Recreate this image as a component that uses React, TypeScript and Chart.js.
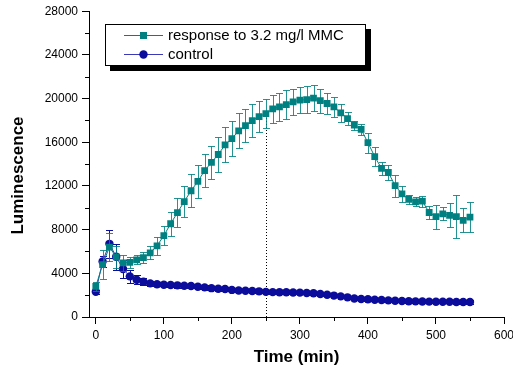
import React, { useEffect, useRef } from 'react';
import { Chart, registerables } from 'chart.js';

Chart.register(...registerables);

const FONT = '"Liberation Sans", Arial, Helvetica, sans-serif';

const times = [
  0, 10, 20, 30, 40, 50, 60, 70, 80, 90,
  100, 110, 120, 130, 140, 150, 160, 170, 180, 190,
  200, 210, 220, 230, 240, 250, 260, 270, 280, 290,
  300, 310, 320, 330, 340, 350, 360, 370, 380, 390,
  400, 410, 420, 430, 440, 450, 460, 470, 480, 490,
  500, 510, 520, 530, 540, 550,
];

const responseValues = [
  2800, 4800, 6400, 5500, 4950, 5000, 5240, 5430, 5880, 6520,
  7450, 8540, 9560, 10570, 11560, 12410, 13410, 14150, 14880, 15760,
  16340, 17050, 17530, 17990, 18350, 18630, 19060, 19240, 19450, 19700,
  19850, 19910, 20040, 19820, 19550, 19240, 18700, 18170, 17560, 17180,
  15960, 14690, 13600, 13230, 12020, 11270, 10780, 10550, 10610, 9570,
  9200, 9450, 9300, 9200, 8840, 9150,
];

const responseErrors = [
  400, 1300, 1300, 1000, 700, 500, 400, 500, 600, 800,
  900, 1100, 1300, 1400, 1500, 1500, 1500, 1500, 1600, 1600,
  1600, 1600, 1500, 1500, 1400, 1300, 1300, 1300, 1300, 1200,
  1200, 1200, 1200, 1100, 1000, 900, 800, 600, 400, 500,
  900, 900, 600, 700, 1000, 700, 400, 400, 500, 600,
  1100, 600, 1100, 2000, 1100, 1400,
];

const controlValues = [
  2310, 5090, 6700, 5520, 4390, 3720, 3410, 3230, 3080, 3000,
  2950, 2930, 2900, 2860, 2840, 2770, 2710, 2640, 2590, 2560,
  2480, 2420, 2410, 2380, 2350, 2300, 2280, 2270, 2270, 2250,
  2230, 2200, 2170, 2100, 2040, 1960, 1890, 1800, 1700, 1650,
  1620, 1580, 1550, 1520, 1490, 1460, 1440, 1430, 1420, 1410,
  1400, 1390, 1390, 1380, 1380, 1380,
];

const controlErrors = [
  200, 500, 1300, 1200, 800, 600, 400, 300, 250, 200,
  200, 200, 200, 200, 200, 200, 200, 200, 200, 200,
  150, 150, 150, 150, 150, 150, 150, 150, 150, 150,
  150, 150, 150, 150, 150, 150, 150, 150, 150, 150,
  150, 150, 150, 150, 150, 150, 150, 150, 150, 150,
  150, 150, 150, 150, 150, 150,
];

const xTicks = [0, 100, 200, 300, 400, 500, 600];
const xMinorTicks = [50, 150, 250, 350, 450, 550];
const yTicks = [0, 4000, 8000, 12000, 16000, 20000, 24000, 28000];
const yMinorTicks = [2000, 6000, 10000, 14000, 18000, 22000, 26000];

const markerTime = 250;

const legendLabels = ['response to 3.2 mg/l MMC', 'control'];
const xTitle = 'Time (min)';
const yTitle = 'Luminescence';

const TEAL = '#008080';
const TEAL_ERR = 'rgba(0,128,128,0.85)';
const BLUE = '#0b0b9c';
const BLUE_LINE = '#3a3ab8';

const errorSets = [
  { values: responseValues, errors: responseErrors, color: TEAL_ERR },
  { values: controlValues, errors: controlErrors, color: BLUE },
];

const customPlugin = {
  id: 'customDraw',
  beforeDatasetsDraw(chart: any) {
    const { ctx, scales } = chart;
    const x = scales.x;
    const y = scales.y;
    const idx = times.indexOf(markerTime);
    const px = Math.round(x.getPixelForValue(markerTime)) + 0.5;
    ctx.save();
    ctx.strokeStyle = '#000';
    ctx.lineWidth = 1;
    ctx.setLineDash([1, 2]);
    ctx.beginPath();
    ctx.moveTo(px, y.getPixelForValue(0));
    ctx.lineTo(px, y.getPixelForValue(responseValues[idx]));
    ctx.stroke();
    ctx.restore();
  },
  beforeDatasetDraw(chart: any, args: any) {
    const set = errorSets[args.index];
    if (!set) return;
    const { ctx, scales } = chart;
    const x = scales.x;
    const y = scales.y;
    ctx.save();
    ctx.strokeStyle = set.color;
    ctx.lineWidth = 1;
    ctx.beginPath();
    times.forEach((t, k) => {
      const px = Math.round(x.getPixelForValue(t)) + 0.5;
      const top = Math.round(y.getPixelForValue(set.values[k] + set.errors[k])) + 0.5;
      const bot = Math.round(y.getPixelForValue(set.values[k] - set.errors[k])) + 0.5;
      ctx.moveTo(px, top);
      ctx.lineTo(px, bot);
      ctx.moveTo(px - 3.5, top);
      ctx.lineTo(px + 3.5, top);
      ctx.moveTo(px - 3.5, bot);
      ctx.lineTo(px + 3.5, bot);
    });
    ctx.stroke();
    ctx.restore();
  },
  afterDraw(chart: any) {
    const { ctx, scales } = chart;
    const x = scales.x;
    const y = scales.y;
    ctx.save();
    ctx.strokeStyle = '#000';
    ctx.lineWidth = 1;
    ctx.beginPath();
    const axisX = x.left;
    const axisY = y.bottom;
    yMinorTicks.forEach((v) => {
      const py = Math.round(y.getPixelForValue(v)) + 0.5;
      ctx.moveTo(axisX - 4, py);
      ctx.lineTo(axisX, py);
    });
    xMinorTicks.forEach((v) => {
      const px = Math.round(x.getPixelForValue(v)) + 0.5;
      ctx.moveTo(px, axisY);
      ctx.lineTo(px, axisY + 4);
    });
    ctx.stroke();

    ctx.save();
    ctx.translate(18, 175.5);
    ctx.rotate(-Math.PI / 2);
    ctx.font = `bold 17px ${FONT}`;
    ctx.fillStyle = '#000';
    ctx.textAlign = 'center';
    ctx.textBaseline = 'middle';
    ctx.fillText(yTitle, 0, 0);
    ctx.restore();

    const bx = 105, by = 24, bw = 261, bh = 42;
    ctx.fillStyle = '#000';
    ctx.fillRect(bx + 5, by + 5, bw, bh);
    ctx.fillStyle = '#fff';
    ctx.fillRect(bx, by, bw, bh);
    ctx.strokeStyle = '#000';
    ctx.lineWidth = 1;
    ctx.strokeRect(bx + 0.5, by + 0.5, bw - 1, bh - 1);

    const rows = [35.5, 54.5];
    ctx.strokeStyle = TEAL;
    ctx.beginPath();
    ctx.moveTo(124, rows[0]);
    ctx.lineTo(163, rows[0]);
    ctx.stroke();
    ctx.fillStyle = TEAL;
    ctx.fillRect(140, rows[0] - 3.5, 7, 7);
    ctx.strokeStyle = BLUE_LINE;
    ctx.beginPath();
    ctx.moveTo(124, rows[1]);
    ctx.lineTo(163, rows[1]);
    ctx.stroke();
    ctx.fillStyle = BLUE;
    ctx.beginPath();
    ctx.arc(143.5, rows[1], 4.2, 0, Math.PI * 2);
    ctx.fill();

    ctx.fillStyle = '#000';
    ctx.font = `15px ${FONT}`;
    ctx.textAlign = 'left';
    ctx.textBaseline = 'middle';
    ctx.fillText(legendLabels[0], 168, rows[0]);
    ctx.fillText(legendLabels[1], 168, rows[1]);
    ctx.restore();
  },
};

export default function App() {
  const canvasRef = useRef<HTMLCanvasElement | null>(null);

  useEffect(() => {
    const canvas = canvasRef.current;
    if (!canvas) return;
    const chart = new Chart(canvas, {
      type: 'line',
      data: {
        datasets: [
          {
            label: legendLabels[0],
            data: times.map((t, i) => ({ x: t, y: responseValues[i] })),
            borderColor: TEAL,
            borderWidth: 1,
            backgroundColor: TEAL,
            pointBackgroundColor: TEAL,
            pointBorderColor: TEAL,
            pointBorderWidth: 0,
            pointStyle: 'rect',
            pointRadius: 4.8,
            tension: 0,
          },
          {
            label: legendLabels[1],
            data: times.map((t, i) => ({ x: t, y: controlValues[i] })),
            borderColor: BLUE_LINE,
            borderWidth: 1,
            backgroundColor: BLUE,
            pointBackgroundColor: BLUE,
            pointBorderColor: BLUE,
            pointBorderWidth: 0,
            pointStyle: 'circle',
            pointRadius: 4.2,
            tension: 0,
          },
        ],
      },
      options: {
        responsive: false,
        animation: false,
        devicePixelRatio: 1,
        layout: { padding: { top: 11, right: 9, left: 0, bottom: 0 } },
        plugins: {
          legend: { display: false },
          tooltip: { enabled: false },
        },
        scales: {
          x: {
            type: 'linear',
            min: -10,
            max: 600,
            afterBuildTicks: (s: any) => {
              s.ticks = xTicks.map((v) => ({ value: v }));
            },
            afterFit: (s: any) => {
              s.height = 58;
              s.paddingRight = 0;
              s.paddingLeft = 0;
            },
            ticks: {
              color: '#000',
              font: { size: 12, family: FONT },
              padding: 4,
              maxRotation: 0,
              autoSkip: false,
              callback: (v: any) => String(v),
            },
            grid: {
              drawOnChartArea: false,
              tickLength: 7,
              tickColor: '#000',
              color: '#000',
            },
            border: { display: true, color: '#000', width: 1 },
            title: {
              display: true,
              text: xTitle,
              color: '#000',
              font: { size: 17, weight: 'bold', family: FONT },
              padding: { top: 0, bottom: 7 },
            },
          },
          y: {
            type: 'linear',
            min: 0,
            max: 28000,
            afterBuildTicks: (s: any) => {
              s.ticks = yTicks.map((v) => ({ value: v }));
            },
            afterFit: (s: any) => {
              s.width = 89;
            },
            ticks: {
              color: '#000',
              font: { size: 12, family: FONT },
              padding: 4,
              autoSkip: false,
              callback: (v: any) => String(v),
            },
            grid: {
              drawOnChartArea: false,
              tickLength: 7,
              tickColor: '#000',
              color: '#000',
            },
            border: { display: true, color: '#000', width: 1 },
          },
        },
      } as any,
      plugins: [customPlugin],
    });
    return () => chart.destroy();
  }, []);

  return (
    <div style={{ position: 'fixed', left: 0, top: 0, width: 513, height: 375, background: '#fff' }}>
      <canvas ref={canvasRef} width={513} height={375} style={{ display: 'block', width: 513, height: 375 }} />
    </div>
  );
}
